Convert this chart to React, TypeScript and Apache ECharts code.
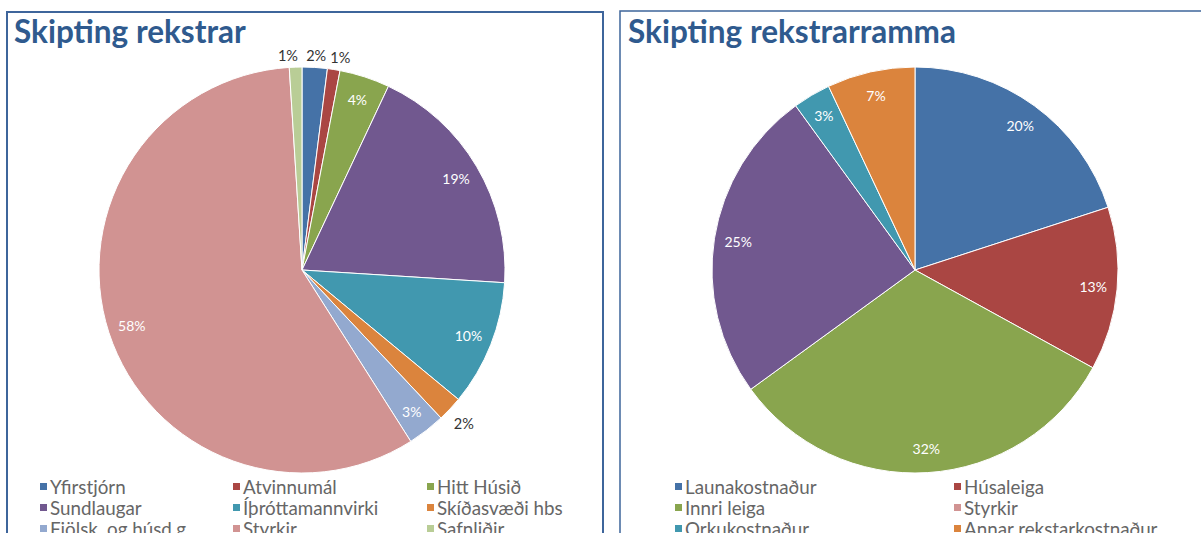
import React, { useEffect, useRef } from "react";
import * as echarts from "echarts";

const leftTitle = "Skipting rekstrar";
const leftNames = [
  "Yfirstjórn",
  "Atvinnumál",
  "Hitt Húsið",
  "Sundlaugar",
  "Íþróttamannvirki",
  "Skíðasvæði hbs",
  "Fjölsk. og húsd.g.",
  "Styrkir",
  "Safnliðir",
];
const leftValues = [2, 1, 4, 19, 10, 2, 3, 58, 1];
const leftColors = ["#4572A7", "#AA4643", "#89A54E", "#71588F", "#4198AF", "#DB843D", "#93A9CF", "#D19392", "#B9CD96"];

const rightTitle = "Skipting rekstrarramma";
const rightNames = ["Launakostnaður", "Húsaleiga", "Innri leiga", "Styrkir", "Orkukostnaður", "Annar rekstarkostnaður"];
const rightValues = [20, 13, 32, 25, 3, 7];
const rightColors = ["#4572A7", "#AA4643", "#89A54E", "#71588F", "#4198AF", "#DB843D"];

const FONT = "Lato, 'Open Sans', sans-serif";
const SMALL_LIMIT = 2;

function pct(p: any) {
  return Math.round(p.percent) + "%";
}

function pieSeries(id: string, names: string[], values: number[], colors: string[], cx: number, cy: number) {
  const main = {
    type: "pie",
    id: id + "-main",
    center: [cx, cy],
    radius: [0, 203],
    startAngle: 90,
    clockwise: true,
    avoidLabelOverlap: false,
    label: { show: false },
    labelLine: { show: false },
    emphasis: { disabled: true },
    itemStyle: { borderColor: "#ffffff", borderWidth: 1 },
    data: names.map((n, i) => ({ name: n, value: values[i], itemStyle: { color: colors[i] } })),
  };
  const inner = {
    type: "pie",
    id: id + "-inner",
    center: [cx, cy],
    radius: [150, 202],
    startAngle: 90,
    clockwise: true,
    silent: true,
    avoidLabelOverlap: false,
    emphasis: { disabled: true },
    itemStyle: { color: "rgba(0,0,0,0)" },
    labelLine: { show: false },
    label: {
      show: true,
      position: "inside",
      color: "#ffffff",
      fontFamily: FONT,
      fontSize: 14,
      formatter: pct,
    },
    data: names.map((n, i) => ({
      name: n,
      value: values[i],
      label: { show: id === "right" || values[i] > SMALL_LIMIT },
    })),
  };
  const series: any[] = [main, inner];
  if (id === "left") {
    series.push({
      type: "pie",
      id: id + "-outer",
      center: [cx, cy],
      radius: [0, 203],
      startAngle: 90,
      clockwise: true,
      silent: true,
      z: 3,
      avoidLabelOverlap: false,
      emphasis: { disabled: true },
      itemStyle: { color: "rgba(0,0,0,0)" },
      labelLine: { show: false, length: 12, length2: 0 },
      labelLayout: (p: any) => {
        const r = p.labelRect;
        const ox = r.x + r.width / 2 - cx;
        const oy = r.y + r.height / 2 - cy;
        const top = oy < -150;
        return {
          align: "center",
          verticalAlign: "middle",
          dx: top ? ox * 0.2 - 4 : ox * 0.03,
          dy: top ? 0 : oy * 0.04,
        };
      },
      label: {
        show: true,
        position: "outside",
        distanceToLabelLine: 0,
        color: "#333333",
        fontFamily: FONT,
        fontSize: 14.5,
        formatter: pct,
      },
      data: names.map((n, i) => ({
        name: n,
        value: values[i],
        label: { show: values[i] <= SMALL_LIMIT },
      })),
    });
  }
  return series;
}

function legendCol(names: string[], left: number) {
  return {
    orient: "vertical",
    left,
    top: 476,
    height: 80,
    padding: 0,
    itemWidth: 9,
    itemHeight: 9,
    itemGap: 0,
    icon: "rect",
    selectedMode: false,
    textStyle: { color: "#666666", fontFamily: FONT, fontSize: 18.8, lineHeight: 21, padding: [0, 0, 0, -3] },
    data: names,
  };
}

export default function App() {
  const ref = useRef<HTMLDivElement>(null);
  useEffect(() => {
    document.body.style.margin = "0";
    const chart = echarts.init(ref.current!, undefined, { renderer: "svg" });
    const leftCols = [0, 1, 2].map((c) => leftNames.filter((_, i) => i % 3 === c));
    const rightCols = [0, 1].map((c) => rightNames.filter((_, i) => i % 2 === c));
    const titleStyle = { color: "#2F5A8E", fontFamily: FONT, fontSize: 31.5, fontWeight: "bold" };
    chart.setOption({
      animation: false,
      backgroundColor: "#ffffff",
      title: [
        { text: leftTitle, left: 14, top: 15, padding: 0, textStyle: titleStyle },
        { text: rightTitle, left: 628, top: 15, padding: 0, textStyle: titleStyle },
      ],
      legend: [
        legendCol(leftCols[0], 38),
        legendCol(leftCols[1], 231),
        legendCol(leftCols[2], 425),
        legendCol(rightCols[0], 673),
        legendCol(rightCols[1], 952),
      ],
      graphic: [
        {
          type: "rect",
          shape: { x: 7, y: 12, width: 596, height: 600 },
          style: { fill: "none", stroke: "#3E659B", lineWidth: 2 },
          silent: true,
        },
        {
          type: "rect",
          shape: { x: 620, y: 11, width: 700, height: 600 },
          style: { fill: "none", stroke: "#3E659B", lineWidth: 1.5 },
          silent: true,
        },
      ],
      series: [
        ...pieSeries("left", leftNames, leftValues, leftColors, 302, 270),
        ...pieSeries("right", rightNames, rightValues, rightColors, 915, 270),
      ],
    });
    return () => chart.dispose();
  }, []);
  return (
    <div style={{ position: "absolute", left: 0, top: 0, width: 1201, height: 533, overflow: "hidden" }}>
      <div ref={ref} style={{ width: 1201, height: 580 }} />
    </div>
  );
}
